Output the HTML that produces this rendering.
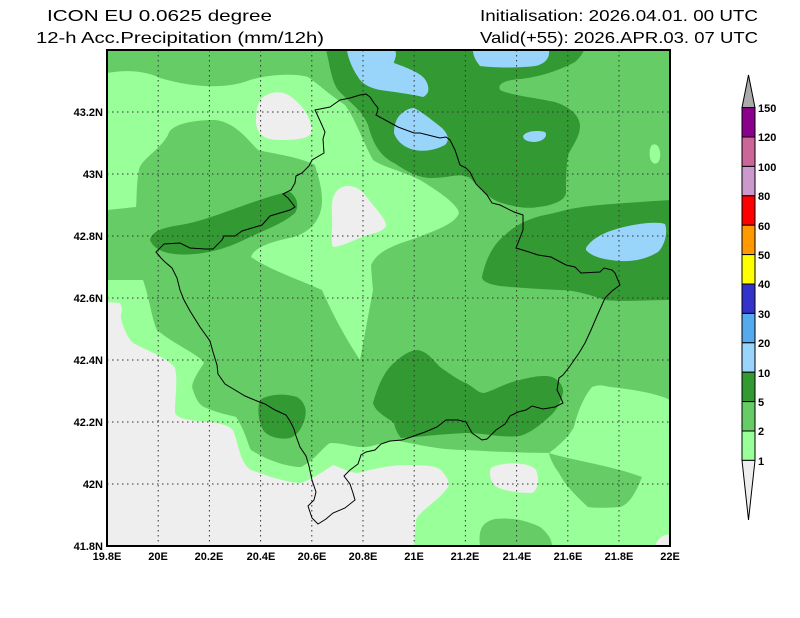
<!DOCTYPE html>
<html><head><meta charset="utf-8"><style>
html,body{margin:0;padding:0;background:#fff;}
svg{display:block;font-family:"Liberation Sans",sans-serif;}
</style></head><body>
<svg width="800" height="618" viewBox="0 0 800 618" xmlns="http://www.w3.org/2000/svg">
<rect width="800" height="618" fill="#fff"/>
<text x="47" y="21" font-size="16" textLength="225" lengthAdjust="spacingAndGlyphs">ICON EU 0.0625 degree</text>
<text x="36" y="43" font-size="16" textLength="288" lengthAdjust="spacingAndGlyphs">12-h Acc.Precipitation (mm/12h)</text>
<text x="480" y="21" font-size="16" textLength="278" lengthAdjust="spacingAndGlyphs">Initialisation: 2026.04.01. 00 UTC</text>
<text x="480" y="43" font-size="16" textLength="278" lengthAdjust="spacingAndGlyphs">Valid(+55): 2026.APR.03. 07 UTC</text>
<defs><clipPath id="c"><rect x="107" y="50" width="563" height="496"/></clipPath></defs>
<g clip-path="url(#c)">
<rect x="107" y="50" width="563" height="496" fill="#66cc66"/>
<!-- light green top-left + central -->
<path fill="#99ff99" d="M107,73 C125,70 143,70 160,78 C190,87 225,90 250,80 C272,73 300,74 308,77 C318,84 330,95 345,105 C356,120 362,140 373,160 C385,168 400,170 420,180 C440,192 458,205 459,213 C455,225 430,232 419,237 C395,245 378,250 371,265 C372,280 373,290 373,290 L360,360 C350,345 335,320 322,290 C300,280 270,270 251,257 C255,245 280,240 294,237 C315,230 322,215 322,200 C322,185 316,170 315,165 C300,157 270,153 258,150 C248,140 235,122 215,120 C190,120 170,125 168,135 C160,150 140,160 139,170 C136,185 137,200 136,207 L107,210 Z"/>
<path fill="#99ff99" d="M107,280 L143,280 C150,300 152,320 157,330 C175,345 200,355 204,363 C196,375 190,385 193,390 C196,400 200,405 204,407 C220,414 230,415 236,417 C245,430 248,445 251,450 C270,462 290,467 301,467 C315,460 322,448 330,443 C345,443 355,448 366,447 C380,445 390,440 394,440 C420,445 440,450 466,450 C500,452 530,453 549,453 C560,445 570,435 574,427 C578,410 585,395 592,387 C600,384 605,386 610,387 C640,390 660,395 670,400 L670,546 L107,546 Z"/>
<!-- mid green patches bottom right -->
<path fill="#66cc66" d="M549,453 C570,460 610,465 642,477 C635,495 628,505 620,507 C605,508 595,508 588,507 C575,495 565,485 559,473 C553,465 550,458 549,453 Z"/>
<path fill="#66cc66" d="M480,546 C478,530 482,522 495,519 C515,517 530,522 540,527 C548,533 552,540 552,546 Z"/>
<path fill="#66cc66" d="M649,160 C652,143 658,143 660,150 C661,160 657,168 652,166 Z" opacity="0"/>
<!-- grey areas -->
<path fill="#eeeeee" d="M107,302 L120,303 C124,310 120,315 121,318 C123,328 128,338 133,343 C150,352 168,358 175,368 C178,380 175,395 175,413 C178,420 195,421 211,422 C225,424 230,427 233,430 C237,440 238,448 240,453 C243,462 246,467 251,470 C270,477 290,483 301,483 C315,478 325,470 333,465 C342,468 350,473 358,473 C375,468 395,465 405,465 C420,465 435,465 441,470 C448,478 450,483 448,487 C440,500 420,510 416,520 L414,546 L107,546 Z"/>
<path fill="#eeeeee" d="M491,468 C500,462 530,461 536,470 C540,480 538,490 532,493 C515,493 500,490 494,485 C490,480 489,472 491,468 Z"/>
<path fill="#eeeeee" d="M655,546 C658,538 665,533 670,535 L670,546 Z"/>
<path fill="#eeeeee" d="M262,98 C272,90 285,90 295,100 C305,108 311,120 312,130 C312,138 300,140 280,140 C265,140 256,135 256,120 C256,110 258,102 262,98 Z"/>
<path fill="#eeeeee" d="M340,188 C350,183 360,188 365,195 C375,208 387,220 386,226 C382,233 372,233 362,237 C350,242 340,247 333,247 C330,240 333,230 332,215 C331,200 334,192 340,188 Z"/>
<!-- light green small blob -->
<path fill="#99ff99" d="M652,145 C658,142 661,150 660,158 C658,166 652,165 650,158 C649,152 650,147 652,145 Z"/>
<!-- dark green -->
<path fill="#339933" d="M150,240 C152,232 160,228 180,225 C200,222 225,212 245,205 C265,198 280,193 290,192 C296,196 300,205 295,213 C285,222 270,228 250,237 C230,247 215,252 195,254 C175,256 155,253 150,240 Z"/>
<path fill="#339933" d="M326,50 C330,65 331,80 338,90 C350,103 362,110 368,125 C372,140 378,155 394,163 C405,170 415,177 430,178 C450,178 460,172 470,178 C480,188 490,200 502,203 C515,207 528,209 538,207 C555,205 565,200 566,193 C566,180 566,170 568,155 C573,145 580,137 580,125 C579,115 570,107 555,102 C530,97 510,95 500,90 C497,84 505,80 520,79 C540,77 560,70 575,62 C582,56 584,50 584,50 Z"/>
<path fill="#339933" d="M482,277 C485,262 492,245 505,235 C515,225 530,218 545,215 C560,212 570,208 590,206 C610,204 640,202 670,200 L670,300 C650,300 620,302 605,300 C590,295 575,290 560,290 C540,289 520,288 500,286 C488,284 482,281 482,277 Z"/>
<path fill="#339933" d="M373,403 C378,385 385,370 395,362 C403,355 410,350 418,350 C428,352 433,360 440,367 C450,374 458,380 466,383 C475,388 478,393 484,393 C495,390 505,383 520,380 C535,376 545,375 552,377 C560,380 564,388 563,393 C560,405 555,412 549,417 C540,425 532,432 520,436 C500,438 485,433 466,433 C440,434 420,437 401,438 C397,433 395,428 394,423 C388,418 375,412 373,403 Z"/>
<path fill="#339933" d="M260,400 C268,394 285,393 297,397 C305,402 307,410 305,418 C302,428 298,435 290,438 C280,440 268,437 263,430 C258,420 257,408 260,400 Z"/>
<!-- blue -->
<path fill="#99d5fa" d="M347,50 L395,50 C398,56 393,62 394,63 C405,67 418,72 423,77 C428,82 429,88 428,92 C426,96 423,97 423,97 C410,94 395,92 380,90 C370,88 362,84 358,77 C352,68 348,58 347,50 Z"/>
<path fill="#99d5fa" d="M473,50 L549,50 C550,58 545,64 535,66 C520,68 495,68 480,66 C475,60 473,55 473,50 Z"/>
<path fill="#99d5fa" d="M400,115 C405,110 410,108 414,108 C422,112 432,120 442,128 C448,134 450,140 445,145 C435,150 425,152 415,150 C405,148 397,142 394,133 C394,124 397,118 400,115 Z"/>
<path fill="#99d5fa" d="M523,136 C526,131 537,130 545,132 C548,136 544,141 535,142 C528,142 523,140 523,136 Z"/>
<path fill="#99d5fa" d="M586,248 C592,238 605,232 620,228 C635,224 655,221 665,224 C668,232 665,245 658,252 C648,258 635,262 620,261 C605,260 592,257 586,250 Z"/>
<!-- grid -->
<g stroke="#333" stroke-width="1" stroke-dasharray="1.5,3.5" fill="none">
<path d="M158.2,50V546M209.4,50V546M260.6,50V546M311.8,50V546M363,50V546M414.2,50V546M465.4,50V546M516.6,50V546M567.8,50V546M619,50V546"/>
<path d="M107,484H670M107,422H670M107,360H670M107,298H670M107,236H670M107,174H670M107,112H670"/>
</g>
<!-- border -->
<polyline fill="none" stroke="#000" stroke-width="1" points="161,258 156,252 164,244 180,243 190,248 205,249 213,249 222,240 224,236 235,236 242,231 252,228 262,225 270,216 290,210 295,207 288,198 283,194 291,190 295,183 296,176 302,173 309,166 312,160 324,153 323,139 325,132 321,123 316,112 315,110 330,107 340,100 350,98 360,95 366,94 370,97 374,103 378,108 377,113 376,115 387,121 398,127 414,133 420,133 432,136 440,138 446,137 450,140 455,150 460,165 466,168 470,172 476,184 487,195 492,203 500,205 514,212 523,215 523,230 516,248 529,252 538,255 551,257 566,265 575,267 581,273 600,272 604,268 612,270 615,273 620,285 612,291 605,298 597,316 591,330 585,343 579,353 570,366 563,375 559,378 557,390 560,396 563,403 555,407 543,409 532,406 526,410 518,412 510,416 505,424 496,430 487,439 482,440 472,433 466,422 458,420 446,420 437,427 425,432 411,437 402,440 390,441 381,444 375,450 366,452 361,455 358,464 350,470 344,476 350,484 353,493 355,500 345,508 333,513 326,519 318,524 312,518 308,506 314,500 316,492 312,480 309,466 306,456 300,447 296,436 294,429 290,421 286,415 275,410 265,404 257,401 245,396 235,390 225,384 218,374 217,365 213,352 210,341 200,327 190,311 184,300 180,290 177,278 172,268 165,262 161,258"/>
</g>
<rect x="107" y="50" width="563" height="496" fill="none" stroke="#000" stroke-width="2"/>
<g font-size="11" font-weight="bold" text-anchor="end">
<text x="103" y="116">43.2N</text><text x="103" y="178">43N</text><text x="103" y="240">42.8N</text><text x="103" y="302">42.6N</text><text x="103" y="364">42.4N</text><text x="103" y="426">42.2N</text><text x="103" y="488">42N</text><text x="103" y="550">41.8N</text>
</g>
<g font-size="11" font-weight="bold" text-anchor="middle">
<text x="107" y="560">19.8E</text><text x="158" y="560">20E</text><text x="209" y="560">20.2E</text><text x="261" y="560">20.4E</text><text x="312" y="560">20.6E</text><text x="363" y="560">20.8E</text><text x="414" y="560">21E</text><text x="465" y="560">21.2E</text><text x="517" y="560">21.4E</text><text x="568" y="560">21.6E</text><text x="619" y="560">21.8E</text><text x="670" y="560">22E</text>
</g>
<!-- colorbar -->
<g stroke="#000" stroke-width="1">
<polygon points="742,107.6 755,107.6 748.5,75" fill="#aaaaaa"/>
<rect x="742" y="107.6" width="13" height="29.4" fill="#8b008b"/>
<rect x="742" y="137" width="13" height="29.4" fill="#cc6699"/>
<rect x="742" y="166.4" width="13" height="29.4" fill="#cc99cc"/>
<rect x="742" y="195.8" width="13" height="29.4" fill="#ff0000"/>
<rect x="742" y="225.2" width="13" height="29.4" fill="#ff9900"/>
<rect x="742" y="254.6" width="13" height="29.4" fill="#ffff00"/>
<rect x="742" y="284" width="13" height="29.4" fill="#3333cc"/>
<rect x="742" y="313.4" width="13" height="29.4" fill="#55aaee"/>
<rect x="742" y="342.8" width="13" height="29.4" fill="#99d5fa"/>
<rect x="742" y="372.2" width="13" height="29.4" fill="#339933"/>
<rect x="742" y="401.6" width="13" height="29.4" fill="#66cc66"/>
<rect x="742" y="431" width="13" height="29.4" fill="#99ff99"/>
<polygon points="742,460.4 755,460.4 748.5,520" fill="#eeeeee"/>
</g>
<g font-size="11" font-weight="bold">
<text x="758" y="112">150</text><text x="758" y="141">120</text><text x="758" y="171">100</text><text x="758" y="200">80</text><text x="758" y="230">60</text><text x="758" y="259">50</text><text x="758" y="288">40</text><text x="758" y="318">30</text><text x="758" y="347">20</text><text x="758" y="377">10</text><text x="758" y="406">5</text><text x="758" y="435">2</text><text x="758" y="465">1</text>
</g>
</svg>
</body></html>
